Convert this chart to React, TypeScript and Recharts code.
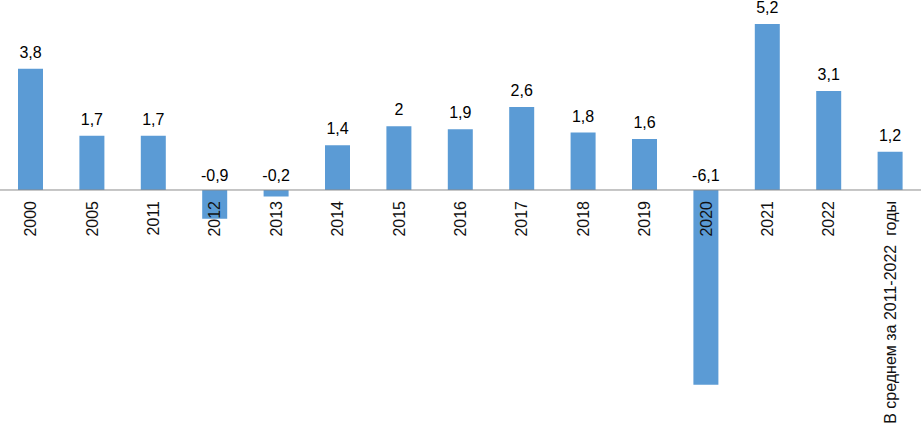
import React from "react";
import { BarChart, Bar, XAxis, YAxis, ReferenceLine, LabelList } from "recharts";

const categories = ["2000", "2005", "2011", "2012", "2013", "2014", "2015", "2016", "2017", "2018", "2019", "2020", "2021", "2022", "В среднем за 2011-2022  годы"];
const values = [3.8, 1.7, 1.7, -0.9, -0.2, 1.4, 2, 1.9, 2.6, 1.8, 1.6, -6.1, 5.2, 3.1, 1.2];

const data = categories.map((name, i) => ({ name, value: values[i] }));

const FONT = "'Liberation Sans', Arial, sans-serif";

function geom(props: any) {
  const vb = props.viewBox && typeof props.viewBox.x === "number" ? props.viewBox : props;
  const x = Number(vb.x);
  const y = Number(vb.y);
  const w = Number(vb.width);
  const h = Number(vb.height);
  const top = Math.min(y, y + h);
  const bottom = Math.max(y, y + h);
  return { x, w, top, bottom };
}

const ValueLabel = (props: any) => {
  const { x, w, top } = geom(props);
  const v = Number(props.value);
  const ly = v >= 0 ? top - 11 : top - 9;
  return (
    <text x={x + w / 2} y={ly} textAnchor="middle" fontSize={16} fontFamily={FONT} fill="#000">
      {String(v).replace(".", ",")}
    </text>
  );
};

const CatLabel = (props: any) => {
  const { x, w, top, bottom } = geom(props);
  const idx = props.index;
  const v = values[idx] ?? 0;
  const zero = v >= 0 ? bottom : top;
  const cx = x + w / 2;
  const cy = zero + 11;
  return (
    <text
      x={cx}
      y={cy}
      dy="0.36em"
      textAnchor="end"
      fontSize={16}
      fontFamily={FONT}
      fill="#111"
      transform={`rotate(-90, ${cx}, ${cy})`}
      style={{ whiteSpace: "pre" }}
    >
      {props.value}
    </text>
  );
};

export default function App() {
  return (
    <div style={{ position: "absolute", left: 0, top: 0, width: 921, height: 429, background: "#fff" }}>
      <BarChart width={921} height={429} data={data} margin={{ top: 14.5, right: 0, bottom: 31.6, left: 0 }}>
        <XAxis dataKey="name" hide />
        <YAxis hide domain={[-6.5, 5.5]} allowDataOverflow />
        <ReferenceLine y={0} stroke="#8c8c8c" strokeWidth={1} />
        <Bar dataKey="value" fill="#5B9BD5" barSize={25} isAnimationActive={false}>
          <LabelList dataKey="value" content={<ValueLabel />} />
          <LabelList dataKey="name" content={<CatLabel />} />
        </Bar>
      </BarChart>
    </div>
  );
}
